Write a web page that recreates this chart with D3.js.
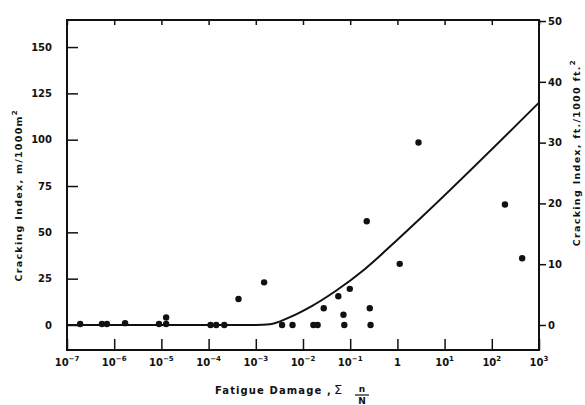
<!DOCTYPE html>
<html>
<head>
	<meta charset="utf-8">
	<script src="https://cdnjs.cloudflare.com/ajax/libs/d3/7.8.5/d3.min.js"></script>
	<style>
		body { margin: 0; background: #fff; }
		text { font-family: "DejaVu Sans", sans-serif; font-weight: bold; fill: #111; }
	</style>
</head>
<body>
	<svg width="585" height="405"></svg>
	<script>
		//observed sections: fatigue damage vs cracking index (m/1000m2)
		const damage = [1.9e-7, 5.5e-7, 7e-7, 1.7e-6, 8.9e-6, 1.26e-5, 1.26e-5,
			1.1e-4, 1.45e-4, 2.15e-4, 4.3e-4, 1.5e-3, 3.6e-3, 6e-3,
			0.0166, 0.0204, 0.0275, 0.056, 0.072, 0.075, 0.098,
			0.224, 0.26, 0.27, 1.12, 2.8, 190, 440];
		const cracking = [0.5, 0.5, 0.5, 1, 0.5, 4, 0.5,
			0, 0, 0, 14, 23, 0, 0,
			0, 0, 9, 15.5, 5.5, 0, 19.5,
			56, 9, 0, 33, 98.5, 65, 36];

		//fitted model curve
		const curveDamage = [1e-7, 1e-3, 2e-3, 5e-3, 0.016, 0.05, 0.2, 1, 3.2, 1000];
		const curveCracking = [0, 0, 0.4, 4, 10.5, 18.5, 30, 46, 58, 120];

		//axis ticks
		const xPowers = [-7, -6, -5, -4, -3, -2, -1, 0, 1, 2, 3];
		const yTicksMetric = [0, 25, 50, 75, 100, 125, 150];
		const yTicksFeet = [0, 10, 20, 30, 40, 50];

		//1 m/1000m2 = 0.3048 ft/1000ft2
		const mToFt = 0.3048;

		let svg = d3.select("svg"),
		margin = {top: 20, right: 46, bottom: 55, left: 67},
		width = svg.attr("width") - margin.left - margin.right,
		height = svg.attr("height") - margin.top - margin.bottom,
		g = svg.append("g").attr("transform", "translate(" + margin.left + "," + margin.top + ")");

		//scales
		let x = d3.scaleLog().domain([1e-7, 1e3]).range([0, width]),
			y = d3.scaleLinear().domain([-13.5, 164.6]).range([height, 0]),
			yFt = d3.scaleLinear().domain([-13.5 * mToFt, 164.6 * mToFt]).range([height, 0]);

		//frame
		g.append("rect")
			.attr("width", width)
			.attr("height", height)
			.attr("fill", "none")
			.attr("stroke", "#111")
			.attr("stroke-width", 2);

		//bottom ticks point inward
		g.append("g")
			.attr("transform", "translate(0," + height + ")")
			.call(d3.axisBottom(x).tickValues(xPowers.map(p => Math.pow(10, p))).tickSizeInner(-11).tickSizeOuter(0).tickFormat(""))
			.call(a => a.select(".domain").remove())
			.selectAll("line").attr("stroke", "#111").attr("stroke-width", 1.5);

		//top ticks, short
		g.append("g")
			.call(d3.axisTop(x).tickValues(xPowers.map(p => Math.pow(10, p))).tickSizeInner(-5).tickSizeOuter(0).tickFormat(""))
			.call(a => a.select(".domain").remove())
			.selectAll("line").attr("stroke", "#111").attr("stroke-width", 1.5);

		//x tick labels as powers of ten
		let xLab = g.append("g")
			.selectAll("text")
			.data(xPowers)
			.enter()
			.append("text")
			.attr("x", d => x(Math.pow(10, d)))
			.attr("y", height + 16)
			.attr("text-anchor", "middle")
			.style("font-size", "10px");
		xLab.filter(d => d === 0).text("1");
		xLab.filter(d => d !== 0).append("tspan").text("10");
		xLab.filter(d => d !== 0).append("tspan")
			.attr("dy", -5)
			.style("font-size", "7px")
			.text(d => d === 1 ? "1" : String(d).replace("-", "\u2212"));

		//left axis, ticks inward
		g.append("g")
			.call(d3.axisLeft(y).tickValues(yTicksMetric).tickSizeInner(-11).tickSizeOuter(0).tickPadding(15))
			.call(a => a.select(".domain").remove())
			.call(a => a.selectAll("line").attr("stroke", "#111").attr("stroke-width", 1.5))
			.call(a => a.selectAll("text").style("font-size", "10px").attr("fill", "#111"));

		//right axis in feet, ticks outward
		g.append("g")
			.attr("transform", "translate(" + width + ",0)")
			.call(d3.axisRight(yFt).tickValues(yTicksFeet).tickSizeInner(7).tickSizeOuter(0).tickPadding(2))
			.call(a => a.select(".domain").remove())
			.call(a => a.selectAll("line").attr("stroke", "#111").attr("stroke-width", 1.5))
			.call(a => a.selectAll("text").style("font-size", "10px").attr("fill", "#111"));

		//model curve
		let line = d3.line()
			.x(d => x(d[0]))
			.y(d => y(d[1]))
			.curve(d3.curveMonotoneX);
		g.append("path")
			.datum(curveDamage.map((d, i) => [d, curveCracking[i]]))
			.attr("d", line)
			.attr("fill", "none")
			.attr("stroke", "#111")
			.attr("stroke-width", 2);

		//observations
		g.append("g")
			.selectAll("circle")
			.data(damage.map((d, i) => [d, cracking[i]]))
			.enter()
			.append("circle")
			.attr("cx", d => x(d[0]))
			.attr("cy", d => y(d[1]))
			.attr("r", 3.2)
			.attr("fill", "#111");

		//axis titles
		svg.append("text")
			.attr("transform", "translate(22," + (margin.top + y(70)) + ") rotate(-90)")
			.attr("text-anchor", "middle")
			.style("font-size", "9.5px")
			.style("letter-spacing", "1.3px")
			.html("Cracking Index, m/1000m<tspan dy='-5' font-size='7px'>2</tspan>");

		svg.append("text")
			.attr("transform", "translate(580," + (margin.top + y(93)) + ") rotate(-90)")
			.attr("text-anchor", "middle")
			.style("font-size", "9.5px")
			.style("letter-spacing", "1.3px")
			.html("Cracking Index, ft./1000 ft.<tspan dy='-5' font-size='7px'>2</tspan>");

		let xTitle = svg.append("g")
			.attr("transform", "translate(215,394)");
		xTitle.append("text")
			.style("font-size", "10px")
			.style("letter-spacing", "1.1px")
			.text("Fatigue Damage ,");
		xTitle.append("text")
			.attr("x", 119)
			.style("font-size", "13px")
			.style("font-weight", "normal")
			.text("\u03a3");
		xTitle.append("text")
			.attr("x", 147)
			.attr("y", -2)
			.attr("text-anchor", "middle")
			.style("font-size", "9px")
			.text("n");
		xTitle.append("line")
			.attr("x1", 140).attr("x2", 154)
			.attr("y1", 1).attr("y2", 1)
			.attr("stroke", "#111").attr("stroke-width", 1.2);
		xTitle.append("text")
			.attr("x", 147)
			.attr("y", 10)
			.attr("text-anchor", "middle")
			.style("font-size", "9px")
			.text("N");
	</script>
</body>
</html>
